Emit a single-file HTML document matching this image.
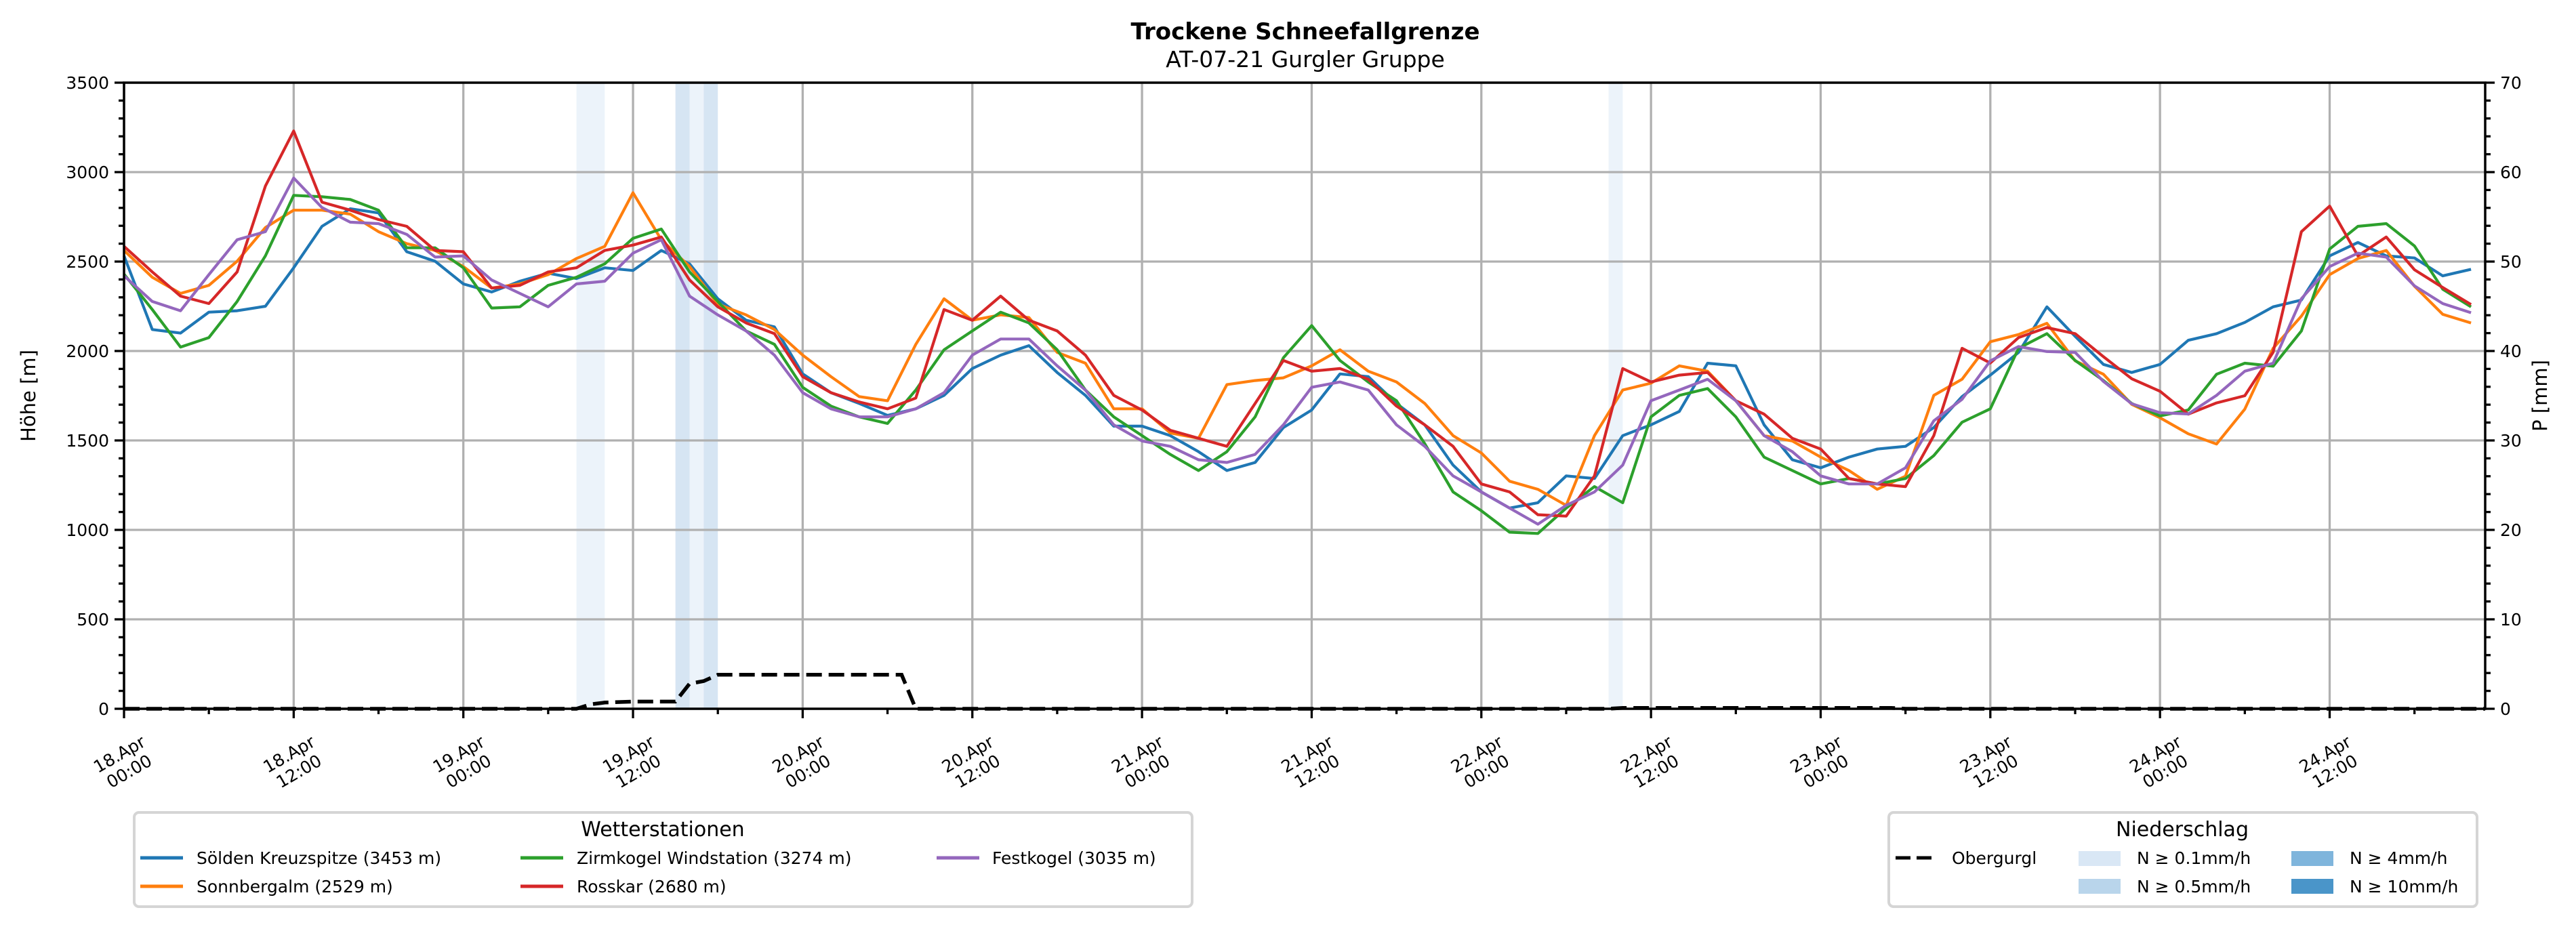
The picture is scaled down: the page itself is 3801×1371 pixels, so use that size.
<!DOCTYPE html>
<html><head><meta charset="utf-8"><style>
html,body{margin:0;padding:0;background:#fff;}
svg{display:block;font-family:"DejaVu Sans","Liberation Sans",sans-serif;}
</style></head><body>
<svg id="chart" width="3801" height="1371" viewBox="0 0 3801 1371" xmlns="http://www.w3.org/2000/svg">
<text x="1926" y="58" text-anchor="middle" font-size="34" font-weight="bold">Trockene Schneefallgrenze</text>
<text x="1926" y="99" text-anchor="middle" font-size="33">AT-07-21 Gurgler Gruppe</text>
<g id="bands"></g>
<g id="grid"></g>
<g id="series"></g>
<g id="axes"></g>
<text transform="translate(52,584) rotate(-90)" text-anchor="middle" font-size="29">Höhe [m]</text>
<text transform="translate(3758,584) rotate(-90)" text-anchor="middle" font-size="29">P [mm]</text>

<g>
<rect x="198" y="1199" width="1561" height="139" rx="7" fill="#fff" stroke="#d5d5d5" stroke-width="4"/>
<text x="978" y="1234" text-anchor="middle" font-size="30">Wetterstationen</text>
<g><line x1="207" y1="1266" x2="270" y2="1266" stroke="#1f77b4" stroke-width="5"/><text x="290" y="1275" font-size="25">Sölden Kreuzspitze (3453 m)</text></g>
<g><line x1="207" y1="1308" x2="270" y2="1308" stroke="#ff7f0e" stroke-width="5"/><text x="290" y="1317" font-size="25">Sonnbergalm (2529 m)</text></g>
<g><line x1="768" y1="1266" x2="831" y2="1266" stroke="#2ca02c" stroke-width="5"/><text x="851" y="1275" font-size="25">Zirmkogel Windstation (3274 m)</text></g>
<g><line x1="768" y1="1308" x2="831" y2="1308" stroke="#d62728" stroke-width="5"/><text x="851" y="1317" font-size="25">Rosskar (2680 m)</text></g>
<g><line x1="1382" y1="1266" x2="1445" y2="1266" stroke="#9467bd" stroke-width="5"/><text x="1464" y="1275" font-size="25">Festkogel (3035 m)</text></g>
</g>

<g>
<rect x="2787" y="1199" width="868" height="139" rx="7" fill="#fff" stroke="#d5d5d5" stroke-width="4"/>
<text x="3220" y="1234" text-anchor="middle" font-size="30">Niederschlag</text>
<g><line x1="2797" y1="1266" x2="2857" y2="1266" stroke="#000" stroke-width="5" stroke-dasharray="22,9"/><text x="2880" y="1275" font-size="25">Obergurgl</text></g>
<g><rect x="3067" y="1256" width="62" height="22" fill="#d9e7f5"/><text x="3153" y="1275" font-size="25">N ≥ 0.1mm/h</text></g>
<g><rect x="3067" y="1297" width="62" height="22" fill="#b9d5eb"/><text x="3153" y="1317" font-size="25">N ≥ 0.5mm/h</text></g>
<g><rect x="3381" y="1256" width="62" height="22" fill="#7fb5dc"/><text x="3467" y="1275" font-size="25">N ≥ 4mm/h</text></g>
<g><rect x="3381" y="1297" width="62" height="22" fill="#4a95c9"/><text x="3467" y="1317" font-size="25">N ≥ 10mm/h</text></g>
</g>
</svg>
<script>
const hours=[0,2,4,6,8,10,12,14,16,18,20,22,24,26,28,30,32,34,36,38,40,42,44,46,48,50,52,54,56,58,60,62,64,66,68,70,72,74,76,78,80,82,84,86,88,90,92,94,96,98,100,102,104,106,108,110,112,114,116,118,120,122,124,126,128,130,132,134,136,138,140,142,144,146,148,150,152,154,156,158,160,162,164,166];
const soelden=[2532,2120,2100,2217,2225,2250,2465,2697,2795,2772,2555,2502,2375,2330,2390,2435,2405,2465,2450,2562,2487,2292,2172,2135,1872,1767,1707,1640,1677,1752,1902,1977,2030,1880,1752,1580,1580,1527,1437,1332,1377,1572,1670,1872,1857,1707,1587,1362,1212,1122,1152,1302,1287,1527,1587,1662,1932,1917,1587,1392,1347,1407,1452,1467,1572,1745,1865,1992,2247,2082,1925,1880,1925,2060,2097,2160,2247,2285,2532,2607,2532,2520,2420,2457];
const sonnbergalm=[2562,2412,2322,2367,2502,2690,2787,2787,2765,2667,2600,2562,2472,2352,2375,2427,2517,2585,2885,2622,2472,2262,2202,2120,1977,1857,1745,1722,2037,2292,2172,2202,2187,1992,1932,1677,1677,1542,1512,1812,1835,1850,1917,2007,1887,1827,1707,1527,1430,1272,1227,1137,1527,1782,1820,1917,1887,1722,1527,1497,1407,1332,1227,1300,1752,1842,2052,2092,2155,1945,1870,1702,1627,1537,1480,1675,2015,2195,2427,2517,2562,2362,2205,2157];
const zirmkogel=[2430,2232,2022,2075,2277,2532,2870,2862,2847,2787,2577,2577,2465,2240,2247,2367,2412,2487,2630,2682,2442,2277,2112,2037,1797,1692,1632,1595,1782,2007,2112,2217,2157,2007,1782,1632,1527,1422,1332,1437,1632,1962,2142,1947,1827,1722,1482,1212,1107,987,980,1122,1242,1152,1632,1752,1790,1632,1407,1332,1257,1287,1257,1287,1415,1602,1677,2015,2097,1947,1835,1707,1637,1670,1870,1932,1915,2112,2570,2697,2712,2587,2345,2247];
const rosskar=[2585,2442,2307,2265,2442,2922,3230,2832,2787,2735,2697,2562,2555,2352,2367,2442,2465,2562,2592,2637,2397,2247,2157,2097,1857,1767,1715,1677,1737,2232,2172,2307,2172,2112,1977,1752,1670,1557,1512,1467,1707,1947,1887,1902,1842,1692,1587,1467,1257,1212,1085,1077,1302,1902,1827,1865,1880,1722,1647,1512,1452,1287,1257,1242,1527,2015,1933,2075,2131,2097,1968,1845,1775,1647,1710,1750,1993,2667,2810,2532,2637,2454,2355,2260];
const festkogel=[2420,2277,2225,2427,2622,2667,2967,2802,2720,2712,2652,2525,2532,2397,2322,2247,2375,2390,2547,2622,2307,2202,2112,1977,1767,1677,1632,1632,1677,1767,1977,2067,2067,1917,1782,1587,1497,1467,1392,1377,1422,1587,1797,1827,1782,1587,1467,1302,1212,1122,1032,1137,1212,1362,1722,1782,1842,1722,1527,1437,1302,1257,1257,1347,1610,1730,1945,2025,1997,1992,1830,1705,1655,1648,1752,1887,1932,2292,2472,2547,2525,2364,2265,2214];
const precipHours=[0,32,33,34,36,39,40,41,42,55,56,105,106,125,126,167];
const precipMM=[0,0,0.5,0.7,0.8,0.8,2.8,3.1,3.8,3.8,0,0,0.1,0.1,0,0];
const bandStart=[32,39,40,41,105];
const bandEnd=[34,40,41,42,106];
const bandLevel=[1,2,1,2,1];
const yTicks=[0,500,1000,1500,2000,2500,3000,3500];
const y2Ticks=[0,10,20,30,40,50,60,70];
const xTickHours=[0,12,24,36,48,60,72,84,96,108,120,132,144,156];
const xTickDay=["18.Apr","18.Apr","19.Apr","19.Apr","20.Apr","20.Apr","21.Apr","21.Apr","22.Apr","22.Apr","23.Apr","23.Apr","24.Apr","24.Apr"];
const xTickTime=["00:00","12:00","00:00","12:00","00:00","12:00","00:00","12:00","00:00","12:00","00:00","12:00","00:00","12:00"];

const L=183,R=3667,T=122,B=1046,HMAX=167,YMAX=3500,PMAX=70;
const X=h=>L+(R-L)*h/HMAX;
const Y=v=>B-(B-T)*v/YMAX;
const Y2=v=>B-(B-T)*v/PMAX;
const NS='http://www.w3.org/2000/svg';
function mk(tag,attrs,parent){const e=document.createElementNS(NS,tag);for(const k in attrs)e.setAttribute(k,attrs[k]);parent.appendChild(e);return e;}

const gb=document.getElementById('bands');
bandStart.forEach((s,i)=>{
  const r=mk('rect',{x:X(s),y:T,width:X(bandEnd[i])-X(s),height:B-T,fill:bandLevel[i]===2?'#d6e5f3':'#ecf3fa'},gb);
  
  
});

const gg=document.getElementById('grid');
yTicks.forEach(v=>{const l=mk('line',{x1:L,x2:R,y1:Y(v),y2:Y(v),stroke:'#b0b0b0','stroke-width':3.3},gg);
  
  });
xTickHours.forEach(h=>{const l=mk('line',{x1:X(h),x2:X(h),y1:T,y2:B,stroke:'#b0b0b0','stroke-width':3.3},gg);
  
  });

const gs=document.getElementById('series');
const sets=[[soelden,'#1f77b4','line-soelden'],[sonnbergalm,'#ff7f0e','line-sonnbergalm'],[zirmkogel,'#2ca02c','line-zirmkogel'],[rosskar,'#d62728','line-rosskar'],[festkogel,'#9467bd','line-festkogel']];
sets.forEach(s=>{
  const pts=hours.map((h,i)=>X(h).toFixed(1)+','+Y(s[0][i]).toFixed(1)).join(' ');
  const p=mk('polyline',{points:pts,fill:'none',stroke:s[1],'stroke-width':4.2,'stroke-linejoin':'round'},gs);
  
  
});
const dpts=precipHours.map((h,i)=>X(h).toFixed(1)+','+Y2(precipMM[i]).toFixed(1)).join(' ');
const dl=mk('polyline',{points:dpts,fill:'none',stroke:'#000','stroke-width':5.5,'stroke-dasharray':'23,10'},gs);



const ga=document.getElementById('axes');
mk('rect',{x:L,y:T,width:R-L,height:B-T,fill:'none',stroke:'#000','stroke-width':3.5},ga);
for(let v=0;v<=YMAX;v+=100){const len=(v%500===0)?14:8;mk('line',{x1:L-len,x2:L,y1:Y(v),y2:Y(v),stroke:'#000','stroke-width':3.3},ga);}
for(let v=0;v<=PMAX;v+=2){const len=(v%10===0)?14:8;mk('line',{x1:R,x2:R+len,y1:Y2(v),y2:Y2(v),stroke:'#000','stroke-width':3.3},ga);}
for(let h=0;h<=HMAX;h+=6){const len=(h%12===0)?14:8;mk('line',{x1:X(h),x2:X(h),y1:B,y2:B+len,stroke:'#000','stroke-width':3.3},ga);}
yTicks.forEach(v=>{const t=mk('text',{x:L-22,y:Y(v)+9,'text-anchor':'end','font-size':25},ga);t.textContent=v;
  
  });
y2Ticks.forEach(v=>{const t=mk('text',{x:R+22,y:Y2(v)+9,'font-size':25},ga);t.textContent=v;
  
  });
xTickHours.forEach((h,i)=>{
  const g=mk('g',{transform:'translate('+X(h)+',1125) rotate(-30)'},ga);
  
  
  const a=mk('text',{x:0,y:-5,'text-anchor':'middle','font-size':25},g);a.textContent=xTickDay[i];
  const b=mk('text',{x:0,y:24,'text-anchor':'middle','font-size':25},g);b.textContent=xTickTime[i];
});
</script>
</body></html>
